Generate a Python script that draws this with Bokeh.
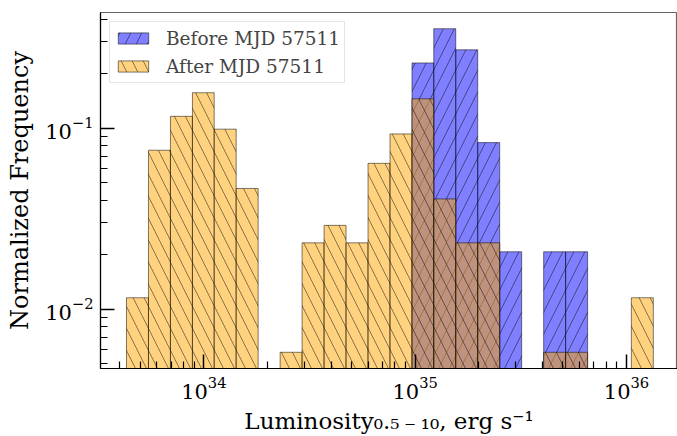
import numpy as np
from bokeh.plotting import figure
from bokeh.models import FixedTicker, Legend, LegendItem, Range1d
from bokeh.embed import file_html
from bokeh.resources import INLINE

# ---- data ----
bin_edges_log10 = [33.634, 33.738, 33.842, 33.946, 34.049, 34.153, 34.257, 34.361,
                   34.465, 34.569, 34.673, 34.777, 34.881, 34.985, 35.088, 35.192,
                   35.296, 35.400, 35.504, 35.608, 35.712, 35.816, 35.920, 36.023, 36.127]
freq_before = [0, 0, 0, 0, 0, 0, 0, 0, 0, 0, 0, 0, 0,
               0.2292, 0.3542, 0.2708, 0.0833, 0.0208, 0, 0.0208, 0.0208, 0, 0, 0]
freq_after = [0.0116, 0.0756, 0.1163, 0.1570, 0.0988, 0.0465, 0, 0.0058,
              0.0233, 0.0291, 0.0233, 0.0640, 0.0930, 0.1453, 0.0407, 0.0233,
              0.0233, 0, 0, 0.0058, 0.0058, 0, 0, 0.0116]
series_labels = ["Before MJD 57511", "After MJD 57511"]
x_major_ticks = [1e34, 1e35, 1e36]
y_major_ticks = [1e-2, 1e-1]
x_label = "Luminosity\u2080.\u2085\u2009\u208b\u2009\u2081\u2080, erg s\u207b\u00b9"
y_label = "Normalized Frequency"

edges = 10.0 ** np.array(bin_edges_log10)
lefts, rights = edges[:-1], edges[1:]
FLOOR = 1e-3


def nonzero(freq):
    f = np.array(freq)
    m = f > 0
    return dict(left=lefts[m], right=rights[m], top=f[m], bottom=np.full(m.sum(), FLOOR))


p = figure(width=677, height=436, x_axis_type="log", y_axis_type="log",
           x_range=Range1d(10 ** 33.511, 10 ** 36.2414),
           y_range=Range1d(10 ** -2.326, 10 ** -0.3614),
           output_backend="svg", toolbar_location=None,
           min_border_left=100, min_border_right=0, min_border_top=12, min_border_bottom=62)
p.grid.visible = False
p.outline_line_color = "black"
p.outline_line_alpha = 0.6
p.outline_line_width = 1.2

common = dict(line_color="black", line_alpha=0.5, line_width=1, fill_alpha=0.5,
              hatch_color="black", hatch_alpha=0.45, hatch_scale=22, hatch_weight=1)
r_before = p.quad(**nonzero(freq_before), fill_color="blue", hatch_pattern="/", **common)
r_after = p.quad(**nonzero(freq_after), fill_color="orange", hatch_pattern="\\", **common)

legend = Legend(items=[LegendItem(label=series_labels[0], renderers=[r_before]),
                       LegendItem(label=series_labels[1], renderers=[r_after])],
                location="top_left", margin=9, padding=4, spacing=4,
                label_height=24, glyph_width=38, glyph_height=14, label_standoff=14,
                label_text_font="DejaVu Serif", label_text_font_size="18.5px",
                border_line_color="#cccccc", border_line_width=1,
                background_fill_alpha=0.8)
p.add_layout(legend)

for ax in (p.xaxis[0], p.yaxis[0]):
    ax.major_tick_in = 14
    ax.major_tick_out = 0
    ax.minor_tick_in = 7
    ax.minor_tick_out = 0
    ax.major_tick_line_width = 1.5
    ax.minor_tick_line_width = 1.2
    ax.axis_line_width = 1.2
    ax.major_label_text_font = "DejaVu Serif"
    ax.major_label_text_font_size = "21px"
    ax.major_label_text_color = "black"
    ax.axis_label_text_font = "DejaVu Serif"
    ax.axis_label_text_font_style = "normal"
    ax.axis_label_text_color = "black"

x_minor = [k * 10.0 ** e for e in (33, 34, 35) for k in range(2, 10)]
y_minor = [k * 10.0 ** e for e in (-3, -2, -1) for k in range(2, 10)]
p.xaxis.ticker = FixedTicker(ticks=x_major_ticks, minor_ticks=x_minor)
p.yaxis.ticker = FixedTicker(ticks=y_major_ticks, minor_ticks=y_minor)
p.xaxis.major_label_standoff = 8
p.yaxis.major_label_standoff = 7

p.yaxis.axis_label = y_label
p.yaxis.axis_label_text_font_size = "24px"
p.yaxis.axis_label_standoff = 8

p.xaxis.axis_label = x_label
p.xaxis.axis_label_text_font_size = "23px"
p.xaxis.axis_label_standoff = 6

open("out.html", "w").write(file_html(p, INLINE))
